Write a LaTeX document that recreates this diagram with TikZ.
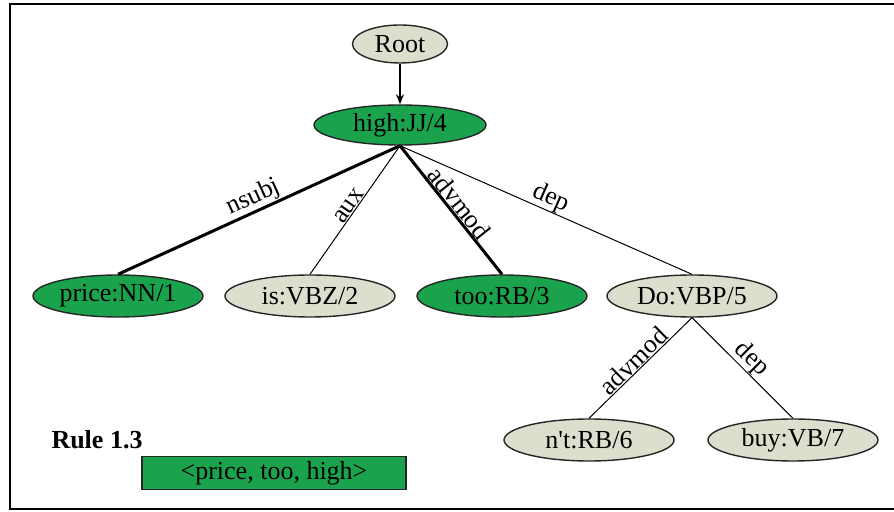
\documentclass[tikz,border=0pt]{standalone}
\usepackage{fontspec}
\setmainfont{Liberation Serif}
\usetikzlibrary{arrows.meta,positioning,shapes.geometric}

\definecolor{wordgreen}{RGB}{26,163,76}
\definecolor{wordgray}{RGB}{222,222,207}

\tikzset{
  word/.style={ellipse,draw=black!85,line width=0.7pt,fill=wordgray,
    minimum width=85pt,minimum height=21pt,inner sep=0pt,font=\fontsize{13}{15}\selectfont},
  hit/.style={word,fill=wordgreen},
  rel/.style={sloped,above,inner sep=0.3pt,font=\fontsize{13}{15}\selectfont},
  thinlink/.style={line width=0.5pt},
  boldlink/.style={line width=1.5pt}
}

\begin{document}
\begin{tikzpicture}[x=0.5pt,y=-0.5pt]
  \useasboundingbox (0,0) rectangle (894,512);
  % frame
  \draw[line width=1pt] (894,4)--(10,4)--(10,509)--(894,509);
  % tree
  \node[word,minimum width=47.5pt,minimum height=19pt] (root) at (400,44) {Root};
  \node[hit,minimum width=86pt,minimum height=20pt] (high) at (400,125) {high:JJ/4};
  \node[hit] (price) at (118,296) {price:NN/1};
  \node[word] (is) at (310,296) {is:VBZ/2};
  \node[hit] (too) at (502,296) {too:RB/3};
  \node[word] (do) at (692,296) {Do:VBP/5};
  \node[word] (nt) at (589,440) {n\textquotesingle t:RB/6};
  \node[word] (buy) at (793,440) {buy:VB/7};

  \draw[-{Stealth[length=5pt,width=4pt]},line width=0.6pt] (root) -- (high);
  \draw[boldlink] (high.south) -- node[rel]{nsubj} (price.north);
  \draw[thinlink] (high.south) -- node[rel]{aux} (is.north);
  \draw[boldlink] (high.south) -- node[rel]{advmod} (too.north);
  \draw[thinlink] (high.south) -- node[rel]{dep} (do.north);
  \draw[thinlink] (do.south) -- node[rel]{advmod} (nt.north);
  \draw[thinlink] (do.south) -- node[rel]{dep} (buy.north);

  % rule
  \node[font=\fontsize{13}{15}\selectfont\bfseries] (rule) at (97,440) {Rule 1.3};
  \node[draw=black!85,line width=0.6pt,fill=wordgreen,minimum width=132pt,minimum height=16.5pt,
    inner sep=0pt,font=\fontsize{13}{15}\selectfont] (tuple) at (274,473) {<price, too, high>};
\end{tikzpicture}
\end{document}
